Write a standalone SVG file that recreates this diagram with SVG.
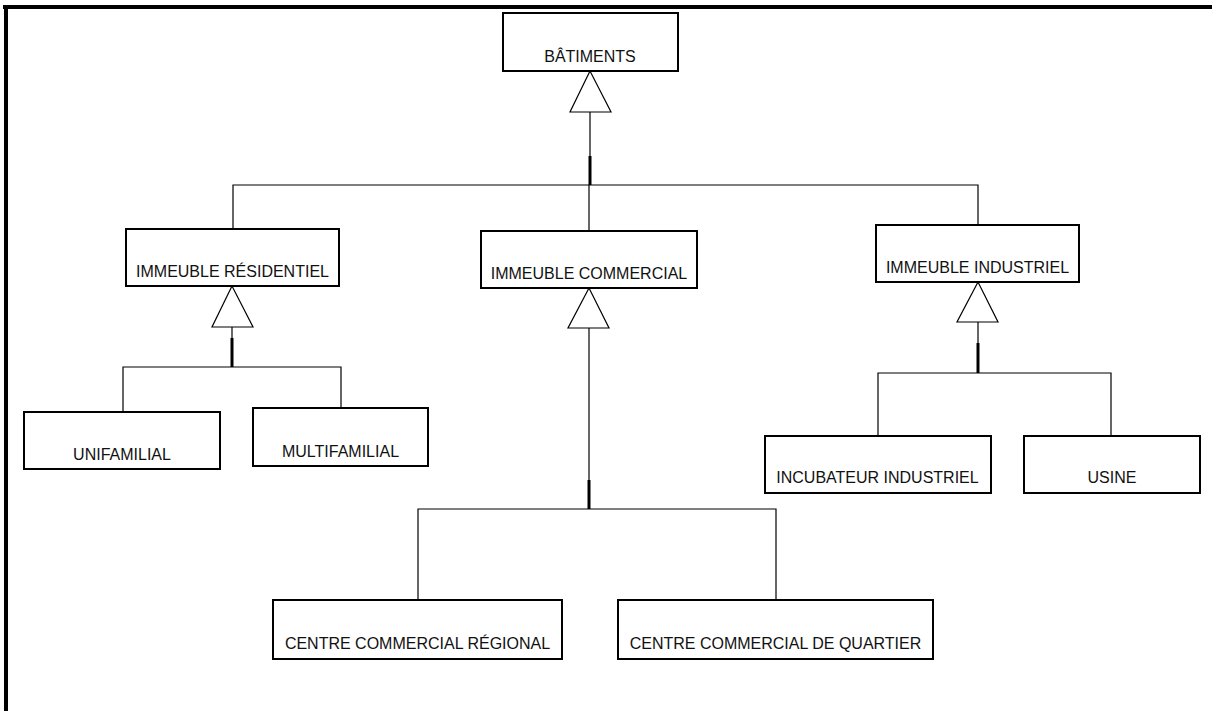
<svg xmlns="http://www.w3.org/2000/svg" width="1212" height="711" viewBox="0 0 1212 711">
<defs>
<style>
.box{fill:#fff;stroke:#000;stroke-width:2}
.lbl{font-family:"Liberation Sans",Arial,sans-serif;font-size:16px;fill:#111;text-anchor:middle}
.ln{fill:none;stroke:#000;stroke-width:1.2}
.thick{fill:none;stroke:#000;stroke-width:3}
.tri{fill:#fff;stroke:#000;stroke-width:1.2}
.frame{fill:none;stroke:#000;stroke-width:4}
</style>
</defs>
<rect width="1212" height="711" fill="#fff"/>
<g id="frame">
<line class="frame" x1="3" y1="7" x2="1212" y2="7"/>
<line class="frame" x1="6" y1="5" x2="6" y2="711"/>
</g>
<g id="connectors">
<!-- Batiments -->
<line class="ln" x1="590" y1="112" x2="590" y2="156"/>
<line class="thick" x1="590" y1="156" x2="590" y2="185"/>
<polyline class="ln" points="233,229 233,185 978,185 978,225"/>
<line class="ln" x1="589" y1="185" x2="589" y2="231"/>
<polygon class="tri" points="590,71 570,112 611,112"/>
<!-- Residentiel -->
<line class="ln" x1="232" y1="327" x2="232" y2="338"/>
<line class="thick" x1="232" y1="338" x2="232" y2="367"/>
<polyline class="ln" points="123,412 123,367 341,367 341,408"/>
<polygon class="tri" points="232,286 212,327 253,327"/>
<!-- Commercial -->
<line class="ln" x1="589" y1="328" x2="589" y2="480"/>
<line class="thick" x1="589" y1="480" x2="589" y2="509"/>
<polyline class="ln" points="418,600 418,509 776,509 776,600"/>
<polygon class="tri" points="589,288 568,328 609,328"/>
<!-- Industriel -->
<line class="ln" x1="978" y1="322" x2="978" y2="343"/>
<line class="thick" x1="978" y1="343" x2="978" y2="373"/>
<polyline class="ln" points="878,436 878,373 1111,373 1111,436"/>
<polygon class="tri" points="978,282 957,322 998,322"/>
</g>
<g id="batiments">
<rect class="box" x="503" y="13" width="175" height="58"/>
<text class="lbl" x="590" y="62">BÂTIMENTS</text>
</g>
<g id="immeuble-residentiel">
<rect class="box" x="126" y="229" width="213" height="57"/>
<text class="lbl" x="232.5" y="277">IMMEUBLE RÉSIDENTIEL</text>
</g>
<g id="immeuble-commercial">
<rect class="box" x="481" y="231" width="216" height="57"/>
<text class="lbl" x="589" y="279">IMMEUBLE COMMERCIAL</text>
</g>
<g id="immeuble-industriel">
<rect class="box" x="876" y="225" width="203" height="57"/>
<text class="lbl" x="977.5" y="273">IMMEUBLE INDUSTRIEL</text>
</g>
<g id="unifamilial">
<rect class="box" x="24" y="412" width="196" height="57"/>
<text class="lbl" x="122" y="460">UNIFAMILIAL</text>
</g>
<g id="multifamilial">
<rect class="box" x="253" y="408" width="175" height="58"/>
<text class="lbl" x="340.5" y="457">MULTIFAMILIAL</text>
</g>
<g id="incubateur-industriel">
<rect class="box" x="765" y="436" width="226" height="57"/>
<text class="lbl" x="877.5" y="483">INCUBATEUR INDUSTRIEL</text>
</g>
<g id="usine">
<rect class="box" x="1024" y="436" width="176" height="57"/>
<text class="lbl" x="1112" y="483">USINE</text>
</g>
<g id="centre-regional">
<rect class="box" x="273" y="600" width="289" height="59"/>
<text class="lbl" x="417.5" y="649">CENTRE COMMERCIAL RÉGIONAL</text>
</g>
<g id="centre-quartier">
<rect class="box" x="618" y="600" width="315" height="59"/>
<text class="lbl" x="775.5" y="649">CENTRE COMMERCIAL DE QUARTIER</text>
</g>
</svg>
